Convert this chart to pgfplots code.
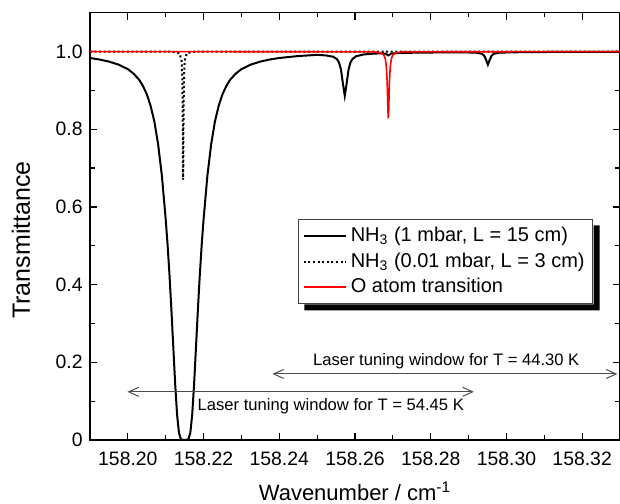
\documentclass[border=0pt]{standalone}
\usepackage{pgfplots}
\pgfplotsset{compat=1.18}
\usepackage{fontspec}
\setmainfont{Liberation Sans}
\usetikzlibrary{arrows.meta,calc}
\begin{document}
% x values: (wavenumber - 158.20 cm^-1) x 1000
\begin{tikzpicture}
\begin{axis}[
  name=ax,
  scale only axis,
  width=265pt, height=213.65pt,
  xmin=-10, xmax=130, ymin=0, ymax=1.1,
  xtick={0,20,40,60,80,100,120},
  xticklabels={158.20,158.22,158.24,158.26,158.28,158.30,158.32},
  ytick={0,0.2,0.4,0.6,0.8,1.0},
  yticklabels={0,0.2,0.4,0.6,0.8,1.0},
  minor x tick num=1, minor y tick num=1,
  tick align=inside,
  major tick length=3.6pt, minor tick length=2.3pt,
  axis line style={line width=0.6pt},
  every tick/.style={black, line width=0.6pt},
  /pgf/number format/assume math mode=true,
  ticklabel style={font=\fontsize{9.7}{11}\selectfont},
  xticklabel style={inner sep=0pt, yshift=-6pt},
  yticklabel style={inner sep=0pt, xshift=-3.5pt},
  xlabel={Wavenumber / cm\textsuperscript{-1}},
  xlabel style={at={(axis description cs:0.5,-0.1405)}, anchor=base, font=\fontsize{11}{13}\selectfont},
  ylabel={Transmittance},
  ylabel style={at={(axis description cs:-0.1302,0.468)}, anchor=center, font=\fontsize{12.5}{14}\selectfont},
  legend style={name=leg, at={(axis description cs:0.393,0.5165)}, anchor=north west,
    draw=black!75, line width=0.5pt, fill=white,
    font=\fontsize{10}{12}\selectfont, row sep=0pt,
    inner xsep=2pt, inner ysep=1.8pt,
    cells={anchor=west}},
  legend image code/.code={\draw[#1] (0pt,0pt) -- (21pt,0pt);},
]
\addplot[black, line width=1pt] coordinates {
(-10,0.9834) (-7.5,0.9795) (-5,0.9742) (-2.5,0.9665) (0,0.9547) (1.5,0.9432)
(3,0.9272) (4,0.9111) (5,0.8902) (6,0.8605) (7,0.8200) (8,0.7609) (9,0.6793)
(10,0.5678) (10.5,0.5017) (11,0.4244) (11.5,0.3359) (12,0.2397) (12.5,0.1444)
(13,0.0654) (13.5,0.0183) (14,0.0025) (14.5,0.0002) (15,0.0000) (15.5,0.0002)
(16,0.0025) (16.5,0.0183) (17,0.0654) (17.5,0.1444) (18,0.2397) (18.5,0.3359)
(19,0.4244) (19.5,0.5017) (20,0.5678) (21,0.6793) (22,0.7609) (23,0.8200)
(24,0.8605) (25,0.8902) (26,0.9111) (27,0.9272) (28.5,0.9432) (30,0.9547)
(32.5,0.9665) (35,0.9742) (37.5,0.9795) (40,0.9834) (45,0.9884) (50,0.9915)
(52.3,0.9900) (54.3,0.9865) (55.3,0.9796) (55.8,0.9711) (56.3,0.9536) (56.8,0.9180)
(57.3,0.8861) (57.8,0.9181) (58.3,0.9540) (58.8,0.9718) (59.3,0.9805) (60.3,0.9879)
(62.3,0.9925) (65,0.9947) (67,0.9954) (68,0.9947) (68.8,0.9900) (69.6,0.9949)
(72,0.9965) (80,0.9975) (88,0.9979) (92,0.9972) (93.5,0.9943) (94.1,0.9897)
(94.6,0.9791) (95.1,0.9660) (95.6,0.9791) (96.1,0.9897) (96.7,0.9943) (98.2,0.9972)
(105,0.9986) (115,0.9990) (130,0.9992)
};
\addlegendentry{NH\textsubscript{3} (1 mbar, L = 15 cm)}
\addplot[black, line width=1pt, dash pattern=on 1pt off 1.3pt] coordinates {
(-10,1.0) (11.6,0.9996) (13.6,0.9960) (14.2,0.9765) (14.4,0.9222) (14.5,0.8167)
(14.55,0.7233) (14.6,0.6700) (14.65,0.7233) (14.7,0.8167) (14.8,0.9222)
(15.0,0.9765) (15.6,0.9960) (17.6,0.9996) (130,1.0)
};
\addlegendentry{NH\textsubscript{3} (0.01 mbar, L = 3 cm)}
\addplot[red, line width=0.8pt] coordinates {
(-10,1.0) (64.8,0.9992) (66.8,0.9968) (67.6,0.9913) (68.0,0.9815) (68.3,0.9595)
(68.5,0.9206) (68.6,0.8867) (68.7,0.8476) (68.8,0.8278) (68.9,0.8476) (69.0,0.8867)
(69.1,0.9206) (69.3,0.9595) (69.6,0.9815) (70.0,0.9913) (70.8,0.9968) (72.8,0.9992)
(130,1.0)
};
\addlegendentry{O atom transition}
\draw[black!70, line width=0.5pt, {Straight Barb[length=5pt,width=4.5pt]}-{Straight Barb[length=5pt,width=4.5pt]}]
  (axis cs:38.2,0.170) -- (axis cs:129.3,0.170);
\node[font=\fontsize{8.3}{10}\selectfont] at (axis cs:84.1,0.203) {Laser tuning window for T = 44.30 K};
\draw[black!70, line width=0.5pt, {Straight Barb[length=5pt,width=4.5pt]}-{Straight Barb[length=5pt,width=4.5pt]}]
  (axis cs:-0.1,0.124) -- (axis cs:91.4,0.124);
\node[font=\fontsize{8.3}{10}\selectfont] at (axis cs:53.6,0.0858) {Laser tuning window for T = 54.45 K};
\end{axis}
\fill[black] ($(leg.north east)+(0.25pt,-3pt)$) -- ($(leg.north east)+(3.25pt,-3pt)$)
  -- ($(leg.south east)+(3.25pt,-3.25pt)$) -- ($(leg.south west)+(3pt,-3.25pt)$)
  -- ($(leg.south west)+(3pt,-0.25pt)$) -- ($(leg.south east)+(0.25pt,-0.25pt)$) -- cycle;
\pgfresetboundingbox
\path ($(ax.south west)+(-45pt,-31.5pt)$) rectangle ($(ax.north east)+(0pt,6.35pt)$);
\end{tikzpicture}
\end{document}
